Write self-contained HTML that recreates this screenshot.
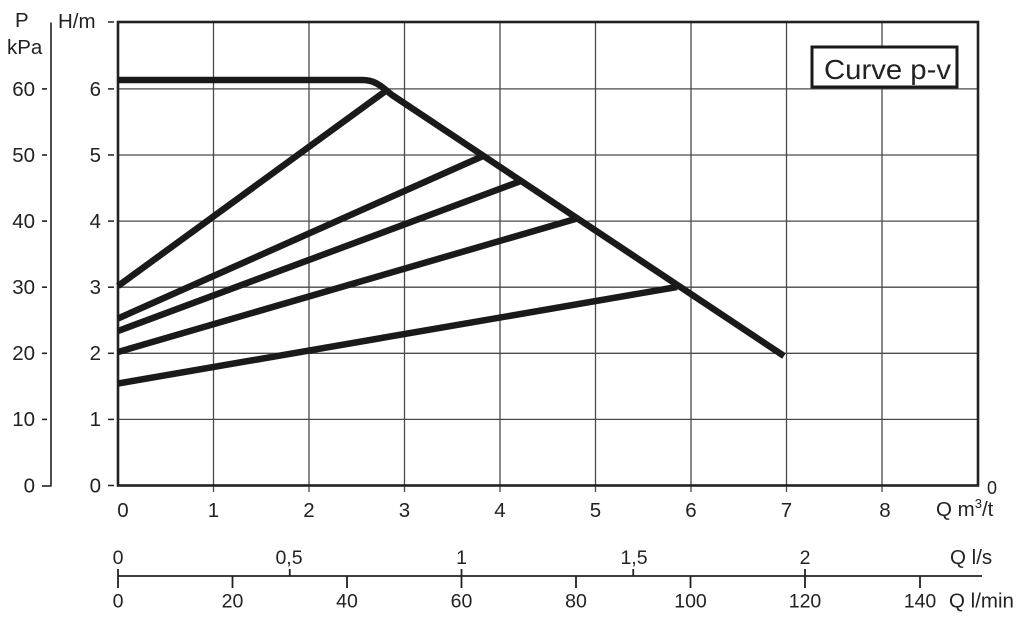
<!DOCTYPE html>
<html>
<head>
<meta charset="utf-8">
<style>
  html, body { margin: 0; padding: 0; background: #ffffff; }
  svg { display: block; }
  text { font-family: "Liberation Sans", Arial, sans-serif; fill: #222; }
</style>
</head>
<body>
<svg width="1024" height="618" viewBox="0 0 1024 618" xmlns="http://www.w3.org/2000/svg">
  <rect x="0" y="0" width="1024" height="618" fill="#ffffff"/>

  <!-- grid -->
  <g stroke="#4a4a4a" stroke-width="1.3">
    <line x1="213.5" y1="22" x2="213.5" y2="492"/>
    <line x1="309" y1="22" x2="309" y2="492"/>
    <line x1="404.5" y1="22" x2="404.5" y2="492"/>
    <line x1="500" y1="22" x2="500" y2="492"/>
    <line x1="595.5" y1="22" x2="595.5" y2="492"/>
    <line x1="691" y1="22" x2="691" y2="492"/>
    <line x1="786.5" y1="22" x2="786.5" y2="492"/>
    <line x1="882" y1="22" x2="882" y2="492"/>
    <line x1="118" y1="419.4" x2="978" y2="419.4"/>
    <line x1="118" y1="353.3" x2="978" y2="353.3"/>
    <line x1="118" y1="287.2" x2="978" y2="287.2"/>
    <line x1="118" y1="221.1" x2="978" y2="221.1"/>
    <line x1="118" y1="155" x2="978" y2="155"/>
    <line x1="118" y1="88.9" x2="978" y2="88.9"/>
  </g>

  <!-- frame -->
  <rect x="118" y="22" width="860" height="463.5" fill="none" stroke="#222" stroke-width="2.6"/>

  <!-- H ticks -->
  <g stroke="#222" stroke-width="1.5">
    <line x1="108" y1="22" x2="114" y2="22"/>
    <line x1="108" y1="88.9" x2="114" y2="88.9"/>
    <line x1="108" y1="155" x2="114" y2="155"/>
    <line x1="108" y1="221.1" x2="114" y2="221.1"/>
    <line x1="108" y1="287.2" x2="114" y2="287.2"/>
    <line x1="108" y1="353.3" x2="114" y2="353.3"/>
    <line x1="108" y1="419.4" x2="114" y2="419.4"/>
    <line x1="108" y1="485.5" x2="114" y2="485.5"/>
  </g>

  <!-- P axis -->
  <g stroke="#222" stroke-width="1.6">
    <line x1="51" y1="22.5" x2="51" y2="486.5"/>
    <line x1="42" y1="88.9" x2="47" y2="88.9"/>
    <line x1="42" y1="155" x2="47" y2="155"/>
    <line x1="42" y1="221.1" x2="47" y2="221.1"/>
    <line x1="42" y1="287.2" x2="47" y2="287.2"/>
    <line x1="42" y1="353.3" x2="47" y2="353.3"/>
    <line x1="42" y1="419.4" x2="47" y2="419.4"/>
    <line x1="42" y1="486" x2="51" y2="486"/>
  </g>

  <!-- curves -->
  <g stroke="#1a1a1a" stroke-width="6.5" fill="none" stroke-linecap="butt" stroke-linejoin="round">
    <path d="M118,80 L362,80 C376,80 382,87 392,95 L784,356"/>
    <line x1="118" y1="286" x2="387" y2="90"/>
    <line x1="118" y1="318.5" x2="483" y2="156"/>
    <line x1="118" y1="331" x2="521" y2="181"/>
    <line x1="118" y1="352" x2="577" y2="218.5"/>
    <line x1="118" y1="383.5" x2="677" y2="287"/>
  </g>

  <!-- legend -->
  <rect x="812" y="47" width="145" height="40" fill="#ffffff" stroke="#1a1a1a" stroke-width="3"/>
  <text x="824" y="79" font-size="28" textLength="127" lengthAdjust="spacingAndGlyphs">Curve  p-v</text>

  <!-- left labels -->
  <g font-size="20.5">
    <text x="15" y="27">P</text>
    <text x="7" y="54">kPa</text>
    <text x="58" y="28">H/m</text>
  </g>
  <g font-size="20.5" text-anchor="end">
    <text x="101" y="96">6</text>
    <text x="101" y="162">5</text>
    <text x="101" y="228">4</text>
    <text x="101" y="294">3</text>
    <text x="101" y="360">2</text>
    <text x="101" y="426">1</text>
    <text x="101" y="492.5">0</text>

    <text x="35" y="96">60</text>
    <text x="35" y="162">50</text>
    <text x="35" y="228">40</text>
    <text x="35" y="294">30</text>
    <text x="35" y="360">20</text>
    <text x="35" y="426">10</text>
    <text x="35" y="492.5">0</text>
  </g>

  <!-- x labels -->
  <g font-size="20.5" text-anchor="middle">
    <text x="123" y="517">0</text>
    <text x="213.5" y="517">1</text>
    <text x="309" y="517">2</text>
    <text x="404.5" y="517">3</text>
    <text x="500" y="517">4</text>
    <text x="595.5" y="517">5</text>
    <text x="691" y="517">6</text>
    <text x="786.5" y="517">7</text>
    <text x="885" y="517">8</text>
  </g>
  <text x="992" y="494" font-size="18" text-anchor="middle">0</text>
  <text x="936" y="516" font-size="20.5">Q m<tspan font-size="13" dy="-8">3</tspan><tspan dy="8">/t</tspan></text>

  <!-- bottom scale -->
  <g stroke="#222" stroke-width="1.8">
    <line x1="118" y1="576" x2="982" y2="576"/>
    <line x1="118" y1="569" x2="118" y2="588"/>
    <line x1="289.75" y1="569" x2="289.75" y2="576"/>
    <line x1="461.5" y1="569" x2="461.5" y2="588"/>
    <line x1="633.25" y1="569" x2="633.25" y2="576"/>
    <line x1="805" y1="569" x2="805" y2="588"/>
    <line x1="232.5" y1="576" x2="232.5" y2="588"/>
    <line x1="347" y1="576" x2="347" y2="588"/>
    <line x1="576" y1="576" x2="576" y2="588"/>
    <line x1="690.5" y1="576" x2="690.5" y2="588"/>
    <line x1="920" y1="576" x2="920" y2="588"/>
  </g>
  <g font-size="19.5" text-anchor="middle">
    <text x="118" y="564">0</text>
    <text x="289" y="564">0,5</text>
    <text x="461.5" y="564">1</text>
    <text x="634" y="564">1,5</text>
    <text x="805" y="564">2</text>

    <text x="118" y="607.5">0</text>
    <text x="232.5" y="607.5">20</text>
    <text x="347" y="607.5">40</text>
    <text x="461.5" y="607.5">60</text>
    <text x="576" y="607.5">80</text>
    <text x="690.5" y="607.5">100</text>
    <text x="805" y="607.5">120</text>
    <text x="920" y="607.5">140</text>
  </g>
  <g font-size="20.5">
    <text x="950" y="564">Q l/s</text>
    <text x="949" y="607.5">Q l/min</text>
  </g>
</svg>
</body>
</html>
